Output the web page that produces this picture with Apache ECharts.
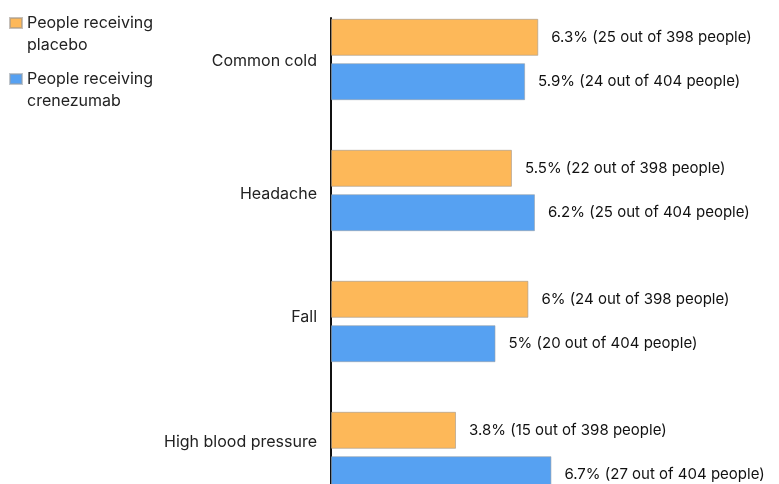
<!DOCTYPE html>
<html>
<head>
<meta charset="utf-8">
<script src="https://cdn.jsdelivr.net/npm/echarts@6/dist/echarts.min.js"></script>
<style>
  html, body { margin: 0; padding: 0; background: #fff; }
  #main { width: 779px; height: 484px; }
</style>
</head>
<body>
<div id="main"></div>
<script>
// chart data
var categories = ['Common cold', 'Headache', 'Fall', 'High blood pressure'];
var placeboPct = [6.3, 5.5, 6, 3.8];
var placeboCount = [25, 22, 24, 15];
var placeboTotal = 398;
var crenePct = [5.9, 6.2, 5, 6.7];
var creneCount = [24, 25, 20, 27];
var creneTotal = 404;
var seriesNames = ['People receiving\nplacebo', 'People receiving\ncrenezumab'];

// small vertical nudges for the category labels (style only)
var labelPad = [[4, 0, 0, 0], [8, 0, 0, 0], [0, 0, 8, 0], [0, 0, 20, 0]];

var chart = echarts.init(document.getElementById('main'));

function makeLabel(counts, total) {
    return {
        show: true,
        position: 'right',
        distance: 13,
        fontFamily: 'Inter',
        fontSize: 15,
        color: '#111',
        formatter: function (p) {
            return p.value + '% (' + counts[p.dataIndex] + ' out of ' + total + ' people)';
        }
    };
}

var catRich = {};
labelPad.forEach(function (pad, i) {
    catRich['n' + i] = { fontFamily: 'Inter', fontSize: 16, color: '#222', padding: pad };
});

// square legend icon sitting at the top of a taller box, so it lines up with the first text line
var legendIcon = 'path://M0,0L12,0L12,10L0,10Z M0,32L0.01,32';

var option = {
    animation: false,
    backgroundColor: '#fff',
    legend: {
        orient: 'vertical',
        left: 4,
        top: 7,
        itemWidth: 12,
        itemHeight: 32,
        itemGap: 12,
        textStyle: {
            fontFamily: 'Inter',
            fontSize: 16,
            color: '#222',
            lineHeight: 22
        },
        data: seriesNames.map(function (n) {
            return { name: n, icon: legendIcon };
        })
    },
    grid: [
        { left: 331, width: 329, top: -6, height: 524, outerBoundsMode: 'none' },
        { left: 331, width: 1, top: 18, bottom: 0, outerBoundsMode: 'none' }
    ],
    xAxis: [
        { type: 'value', min: 0, max: 10, show: false },
        { type: 'value', gridIndex: 1, show: false }
    ],
    yAxis: [
        {
            type: 'category',
            inverse: true,
            data: categories,
            axisLine: { show: false },
            axisTick: { show: false },
            axisLabel: {
                margin: 14,
                fontFamily: 'Inter',
                fontSize: 16,
                color: '#222',
                formatter: function (v, i) {
                    return '{n' + i + '|' + v + '}';
                },
                rich: catRich
            }
        },
        {
            type: 'value',
            gridIndex: 1,
            axisLine: { show: true, lineStyle: { color: '#111', width: 2 } },
            axisTick: { show: false },
            axisLabel: { show: false },
            splitLine: { show: false }
        }
    ],
    series: [
        {
            name: seriesNames[0],
            type: 'bar',
            barWidth: 37,
            barGap: '20%',
            data: placeboPct,
            itemStyle: { color: '#fdb859', borderColor: 'rgba(160,150,140,0.6)', borderWidth: 1 },
            label: makeLabel(placeboCount, placeboTotal)
        },
        {
            name: seriesNames[1],
            type: 'bar',
            barWidth: 37,
            barGap: '20%',
            data: crenePct,
            itemStyle: { color: '#56a1f2', borderColor: 'rgba(150,160,170,0.6)', borderWidth: 1 },
            label: makeLabel(creneCount, creneTotal)
        }
    ]
};

chart.setOption(option);

window.addEventListener('resize', function () {
    chart.resize();
});
</script>
</body>
</html>
